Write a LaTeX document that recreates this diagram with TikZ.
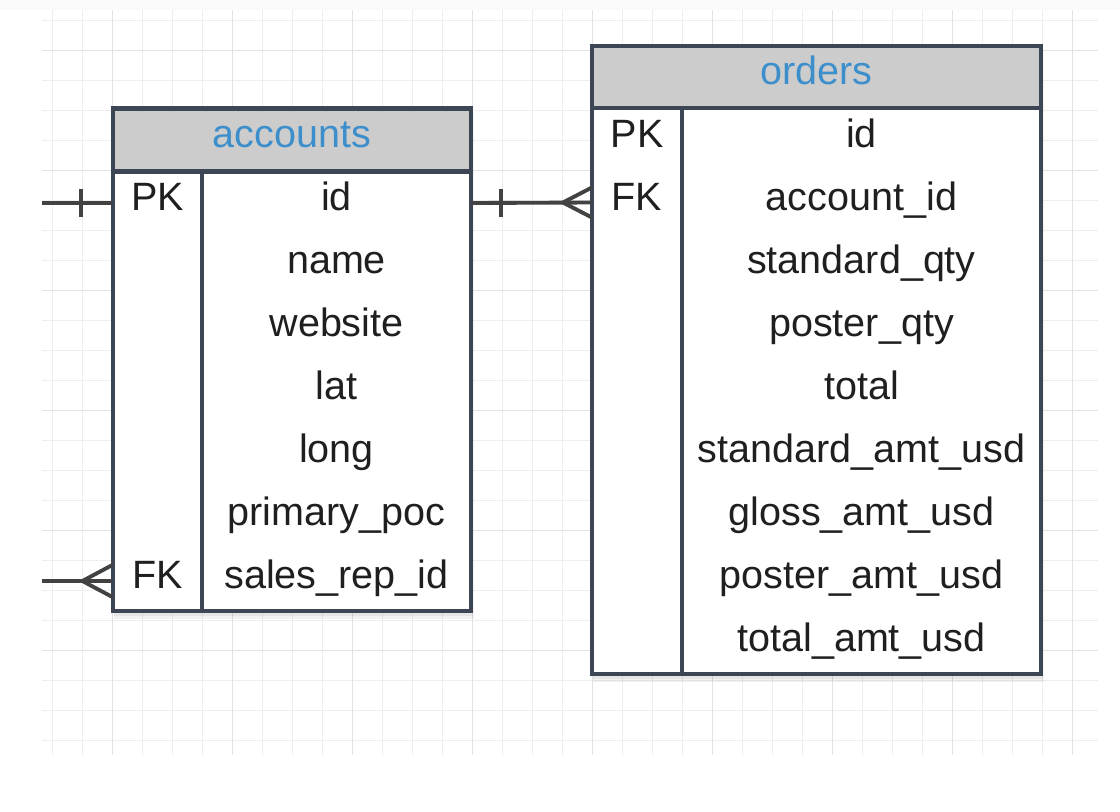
\documentclass[tikz,border=0pt]{standalone}
\usepackage{fontspec}
\setmainfont{Liberation Sans}
\definecolor{gridminor}{RGB}{238, 238, 238}
\definecolor{gridmajor}{RGB}{226, 226, 226}
\definecolor{tableedge}{RGB}{60, 70, 84}
\definecolor{headfill}{RGB}{204, 204, 204}
\definecolor{headblue}{RGB}{61, 143, 204}
\definecolor{linkgray}{RGB}{66, 66, 66}

\begin{document}
\begin{tikzpicture}[x=0.02cm, y=-0.02cm,
    cell/.style={inner sep=0pt, minimum height=1.26cm, text height=0.55cm, text depth=0.25cm,
                 font=\fontsize{22.5}{26}\selectfont, text=black!88},
    keycell/.style={cell, minimum width=1.79cm},
    headcell/.style={cell, text=headblue},
    tableline/.style={draw=tableedge, line width=2.6pt},
    tableshade/.style={fill=black, opacity=0.05},
    link/.style={draw=linkgray, line width=2.2pt}]
    % Page and grid
    \useasboundingbox (0,0) rectangle (1120,812);
    \fill[white] (0,0) rectangle (1120,812);
    \fill[black!2] (0,0) rectangle (1120,10);
    \foreach \x in {52.7,82.7,...,1090} \draw[gridminor, line width=0.85pt] (\x,10) -- (\x,755);
    \foreach \y in {20.7,50.7,...,750} \draw[gridminor, line width=0.85pt] (42,\y) -- (1098,\y);
    \foreach \x in {112.7,232.7,...,1090} \draw[gridmajor, line width=0.85pt] (\x,10) -- (\x,755);
    \foreach \y in {50.7,170.7,...,750} \draw[gridmajor, line width=0.85pt] (42,\y) -- (1098,\y);

    % accounts table
    \fill[tableshade] (114,112) rectangle (474,619);
    \fill[tableshade] (114,112) rectangle (473,616);
    \fill[white] (113,108.5) rectangle (471,611);
    \fill[headfill] (113,108.5) rectangle (471,171.5);
    \draw[tableline] (113,108.5) rectangle (471,611);
    \draw[tableline] (113,171.5) -- (471,171.5);
    \draw[tableline] (202,171.5) -- (202,611);
    \node[headcell] (acc-head) at (292,140) {accounts};
    \node[keycell] (acc-pk) at (157.5,203) {PK};
    \node[keycell] (acc-fk) at (157.5,581) {FK};
    \foreach \f [count=\i] in {id,name,website,lat,long,primary\_poc,sales\_rep\_id}
        \node[cell, minimum width=5.38cm] (acc-\i) at (336.5,{140+63*\i}) {\f};

    % orders table
    \fill[tableshade] (593,50) rectangle (1044,682);
    \fill[tableshade] (593,50) rectangle (1043,679);
    \fill[white] (592,46) rectangle (1041,674);
    \fill[headfill] (592,46) rectangle (1041,108);
    \draw[tableline] (592,46) rectangle (1041,674);
    \draw[tableline] (592,108) -- (1041,108);
    \draw[tableline] (682,108) -- (682,674);
    \node[headcell] (ord-head) at (816.5,77) {orders};
    \node[keycell] (ord-pk) at (637,139.5) {PK};
    \node[keycell] (ord-fk) at (637,202.5) {FK};
    \foreach \f [count=\i] in {id,account\_id,standard\_qty,poster\_qty,total,standard\_amt\_usd,gloss\_amt\_usd,poster\_amt\_usd,total\_amt\_usd}
        \node[cell, minimum width=7.18cm] (ord-\i) at (861.5,{76.5+63*\i}) {\f};

    % Relations
    \coordinate (rep-one) at (42,203);
    \coordinate (rep-many) at (42,581);
    \draw[link] (rep-one) -- (acc-pk.west);
    \draw[link] (acc-pk.west) ++(-31,-14) -- ++(0,28);
    \draw[link] (acc-1.east) -- (ord-fk.west);
    \draw[link] (acc-1.east) ++(30,-14) -- ++(0,28);
    \draw[link] (ord-fk.west) ++(0,-15) -- ++(-29,15) -- ++(29,15);
    \draw[link] (rep-many) -- (acc-fk.west);
    \draw[link] (acc-fk.west) ++(0,-16) -- ++(-30,16) -- ++(30,16);
\end{tikzpicture}
\end{document}
